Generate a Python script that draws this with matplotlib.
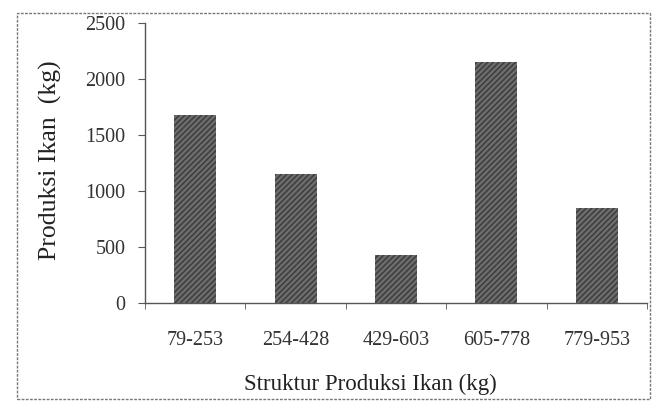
import matplotlib
matplotlib.use("Agg")
import matplotlib.pyplot as plt
from matplotlib.patches import Rectangle
import numpy as np

# Production per production-structure class
categories = ["79-253", "254-428", "429-603", "605-778", "779-953"]
production = [1680, 1150, 430, 2150, 850]
y_ticks = [0, 500, 1000, 1500, 2000, 2500]

plt.rcParams['font.family'] = ['Liberation Serif', 'DejaVu Serif']
plt.rcParams['hatch.linewidth'] = 1.0

W, H = 653, 405
fig = plt.figure(figsize=(W / 100, H / 100), dpi=100)
fig.patch.set_facecolor('white')

ax = fig.add_axes([145 / W, 1 - 303 / H, (647 - 145) / W, (303 - 23) / H])
x = np.arange(len(categories))
ax.bar(x, production, width=0.42, color='#6c6c6c', edgecolor='#3a3a3a',
       hatch='//////', linewidth=0, zorder=2)

ax.set_xlim(-0.5, len(categories) - 0.5)
ax.set_ylim(0, 2500)
ax.set_yticks(y_ticks)
ax.set_xticks(x)
ax.set_xticklabels(categories)
ax.set_xticks(np.arange(-0.5, len(categories), 1), minor=True)

text_col = '#333333'
ax.tick_params(axis='x', which='major', length=0, pad=20, labelsize=14.5,
               labelcolor=text_col)
ax.tick_params(axis='x', which='minor', length=4, direction='out',
               color='#555555')
ax.tick_params(axis='y', length=5, pad=9, labelsize=14.5, labelcolor=text_col,
               color='#555555')

for side in ('top', 'right'):
    ax.spines[side].set_visible(False)
for side in ('left', 'bottom'):
    ax.spines[side].set_color('#555555')
    ax.spines[side].set_linewidth(1.0)

fig.text(50 / W, 1 - 160 / H, 'Produksi Ikan  (kg)', rotation=90,
         ha='center', va='center', fontsize=18.5, color='#222222')
fig.text(370 / W, 1 - 384 / H, 'Struktur Produksi Ikan (kg)',
         ha='center', va='center', fontsize=16.5, color='#222222')

# Dotted border around the whole figure
fig.patches.append(Rectangle((17 / W, 1 - 399 / H), (650 - 17) / W,
                             (399 - 13) / H, transform=fig.transFigure,
                             fill=False, ls=(0, (2, 1)), lw=1.0,
                             ec='#777777'))

fig.savefig('out.png', dpi=100)
